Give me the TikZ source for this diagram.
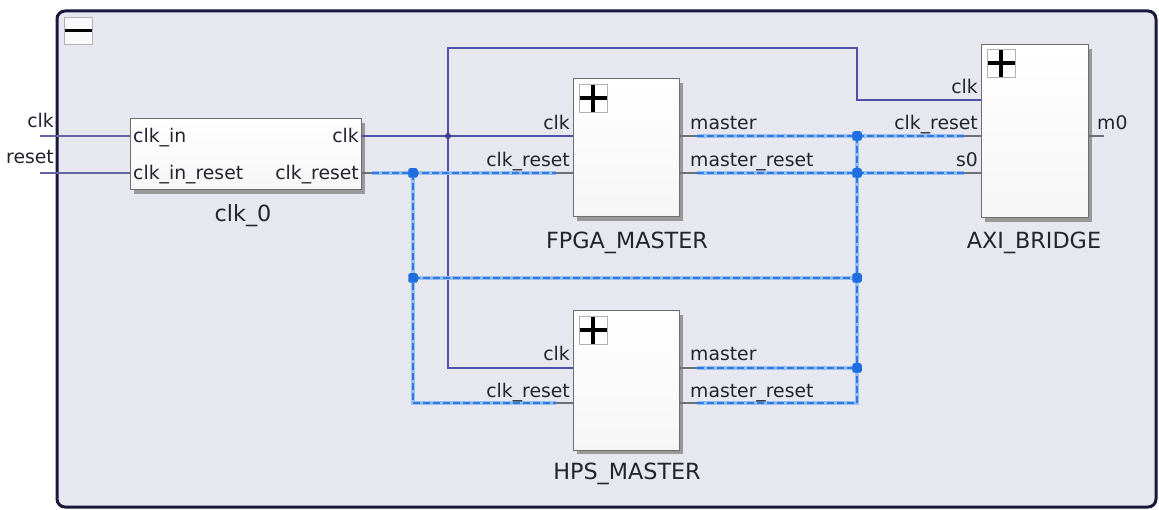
\documentclass[tikz,border=0pt]{standalone}
\usepackage{fontspec}
\setmainfont{DejaVu Sans}
\usetikzlibrary{shadows}
\definecolor{framefill}{RGB}{231,231,239}
\definecolor{frameline}{RGB}{26,24,60}
\definecolor{clkcol}{RGB}{80,80,170}
\definecolor{extcol}{RGB}{100,100,160}
\definecolor{buslight}{RGB}{150,192,242}
\definecolor{busdark}{RGB}{50,120,225}
\definecolor{dotcol}{RGB}{30,110,225}
\definecolor{txt}{RGB}{35,35,45}
\definecolor{blockline}{RGB}{110,110,110}
\definecolor{stubcol}{RGB}{110,110,120}
\begin{document}
\begin{tikzpicture}[x=1pt,y=-1pt,
  block/.style={draw=blockline, line width=1pt, top color=white, bottom color=gray!7,
    inner sep=0pt, outer sep=0pt, anchor=north west,
    drop shadow={shadow xshift=4pt, shadow yshift=-4pt, fill=black!40, opacity=1}},
  plusbox/.style={draw=gray!60, line width=0.8pt, fill=white, minimum width=28pt, minimum height=28pt,
    inner sep=0pt, outer sep=0pt, anchor=north west,
    path picture={\draw[black, line width=3.5pt] (path picture bounding box.west) -- (path picture bounding box.east);
                  \draw[black, line width=3.5pt] (path picture bounding box.north) -- (path picture bounding box.south);}},
  minusbox/.style={draw=gray!60, line width=0.8pt, fill=white!95!gray, minimum width=28pt, minimum height=27pt,
    inner sep=0pt, outer sep=0pt, anchor=north west,
    path picture={\draw[black, line width=3pt] (path picture bounding box.west) -- (path picture bounding box.east);}},
  lbl/.style={font=\fontsize{18.8}{20}\selectfont, text=txt, inner sep=0pt},
  lport/.style={lbl, anchor=base east},
  rport/.style={lbl, anchor=base west},
  bname/.style={font=\fontsize{22.3}{24}\selectfont, text=txt, inner sep=0pt, anchor=base},
  clknet/.style={draw=clkcol, line width=1.2pt},
  extnet/.style={draw=extcol, line width=1.2pt},
  stub/.style={draw=stubcol, line width=1.2pt},
  bus/.style={draw=busdark, line width=1.6pt, dash pattern=on 7pt off 3pt,
    preaction={draw=buslight, line width=4.5pt, solid}},
  dot/.style={fill=dotcol, rounded corners=2pt, minimum size=9.5pt, inner sep=0pt, outer sep=0pt, rectangle},
  cdot/.style={fill=clkcol!80!black, circle, minimum size=6pt, inner sep=0pt, outer sep=0pt}
]
\useasboundingbox (0,0) rectangle (1159,510);
% frame
\draw[frameline, line width=3pt, fill=framefill, rounded corners=8pt] (57,11) rectangle (1156,507);
\node[minusbox] (collapse) at (64,17) {};

% blocks
\node[block, minimum width=231pt, minimum height=71pt] (clk0) at (130,119) {};
\node[block, minimum width=106pt, minimum height=138pt] (fpga) at (573,79) {};
\node[block, minimum width=106pt, minimum height=139pt] (hps) at (573,311) {};
\node[block, minimum width=107pt, minimum height=173pt] (axi) at (981,45) {};

\node[plusbox] (fpgaicon) at (579,84) {};
\node[plusbox] (hpsicon) at (579,316) {};
\node[plusbox] (axiicon) at (987,49) {};

% block names
\node[bname] (n0) at (243,222) {clk\_0};
\node[bname] (n1) at (627,249) {FPGA\_MASTER};
\node[bname] (n2) at (627,479) {HPS\_MASTER};
\node[bname] (n3) at (1034,249) {AXI\_BRIDGE};

% ports
\coordinate (extclk) at (40,136);
\coordinate (extrst) at (40,173);
\coordinate (c0in) at (130,136);
\coordinate (c0inrst) at (130,173);
\coordinate (c0clk) at (361,136);
\coordinate (c0rst) at (361,173);
\coordinate (c0rsts) at (372,173);
\coordinate (fclk) at (573,136);
\coordinate (frst) at (573,173);
\coordinate (frsts) at (556,173);
\coordinate (fm) at (679,136);
\coordinate (fms) at (697,136);
\coordinate (fmr) at (679,173);
\coordinate (fmrs) at (697,173);
\coordinate (hclk) at (573,368);
\coordinate (hrst) at (573,403);
\coordinate (hrsts) at (556,403);
\coordinate (hm) at (679,368);
\coordinate (hms) at (697,368);
\coordinate (hmr) at (679,403);
\coordinate (hmrs) at (697,403);
\coordinate (aclk) at (981,100);
\coordinate (arst) at (981,136);
\coordinate (arsts) at (964,136);
\coordinate (as0) at (981,173);
\coordinate (as0s) at (964,173);
\coordinate (am0) at (1088,136);
\coordinate (am0e) at (1104,136);
% junctions
\coordinate (j1) at (448,136);
\coordinate (c1) at (448,48);
\coordinate (c2) at (857,48);
\coordinate (jr) at (413,173);
\coordinate (j2) at (413,278);
\coordinate (b1) at (857,136);
\coordinate (b2) at (857,173);
\coordinate (b3) at (857,278);
\coordinate (b4) at (857,368);

% external inputs
\draw[extnet] (extclk) -- (c0in);
\draw[extnet] (extrst) -- (c0inrst);
\node[lport] (tclk) at (54,128) {clk};
\node[lport] (treset) at (54,164) {reset};

% clock net
\draw[clknet] (c0clk) -- (fclk);
\draw[clknet] (hclk) -| (c1) -- (c2) |- (aclk);
\draw[stub] (am0) -- (am0e);

% reset / master buses
\draw[stub] (c0rst) -- (c0rsts);
\draw[stub] (frsts) -- (frst);
\draw[stub] (hrsts) -- (hrst);
\draw[stub] (fm) -- (fms);
\draw[stub] (fmr) -- (fmrs);
\draw[stub] (hm) -- (hms);
\draw[stub] (hmr) -- (hmrs);
\draw[stub] (arsts) -- (arst);
\draw[stub] (as0s) -- (as0);
\draw[bus] (c0rsts) -- (jr) -- (frsts);
\draw[bus] (jr) |- (hrsts);
\draw[bus] (j2) -- (b3);
\draw[bus] (fms) -- (b1) -- (arsts);
\draw[bus] (fmrs) -- (b2) -- (as0s);
\draw[bus] (hms) -- (b4);
\draw[bus] (hmrs) -| (b1);

% junction dots
\node[cdot] (dj1) at (j1) {};
\node[dot] (djr) at (jr) {};
\node[dot] (dj2) at (j2) {};
\node[dot] (db1) at (b1) {};
\node[dot] (db2) at (b2) {};
\node[dot] (db3) at (b3) {};
\node[dot] (db4) at (b4) {};

% clk_0 inner labels
\node[lbl, anchor=base west] (p1) at (133,143) {clk\_in};
\node[lbl, anchor=base west] (p2) at (133,180) {clk\_in\_reset};
\node[lbl, anchor=base east] (p3) at (359,143) {clk};
\node[lbl, anchor=base east] (p4) at (359,180) {clk\_reset};

% FPGA labels
\node[lport] (p5) at (570,130) {clk};
\node[lport] (p6) at (570,167) {clk\_reset};
\node[rport] (p7) at (690,130) {master};
\node[rport] (p8) at (690,167) {master\_reset};

% HPS labels
\node[lport] (p9) at (570,361) {clk};
\node[lport] (p10) at (570,397) {clk\_reset};
\node[rport] (p11) at (690,361) {master};
\node[rport] (p12) at (690,397) {master\_reset};

% AXI labels
\node[lport] (p13) at (978,94) {clk};
\node[lport] (p14) at (978,130) {clk\_reset};
\node[lport] (p15) at (978,167) {s0};
\node[rport] (p16) at (1097,130) {m0};
\end{tikzpicture}
\end{document}
